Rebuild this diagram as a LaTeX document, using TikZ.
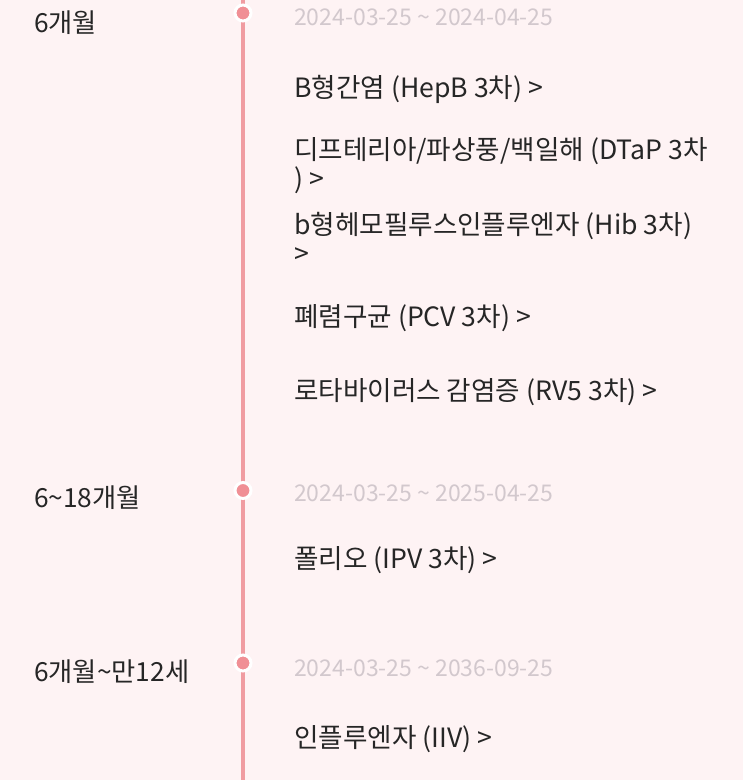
\documentclass[tikz,border=0pt]{standalone}
\usepackage{fontspec}
\setmainfont{Noto Sans CJK KR}
\definecolor{bgpink}{HTML}{FEF3F4}
\definecolor{linepink}{HTML}{F09CA1}
\definecolor{dotpink}{HTML}{F08F95}
\definecolor{dategray}{HTML}{D2C8CD}
\definecolor{txt}{HTML}{262626}
\newcommand\tld{{\char"007E}}
\tikzset{
  age/.style={anchor=base west, inner sep=0pt, font=\fontsize{26.3}{30}\selectfont, text=txt},
  datelbl/.style={anchor=base west, inner sep=0pt, font=\fontsize{23}{26}\selectfont, text=dategray},
  item/.style={anchor=base west, inner sep=0pt, align=left, font=\fontsize{26.6}{29}\selectfont, text=txt},
  dot/.style={circle, fill=dotpink, draw=white, line width=3pt, minimum size=16pt, inner sep=0pt},
}
\begin{document}
\begin{tikzpicture}[x=1pt,y=1pt]
\fill[bgpink] (0,0) rectangle (743,780);
\useasboundingbox (0,0) rectangle (743,780);
\coordinate (top) at (242.5,780);
\coordinate (bot) at (242.5,0);
\draw[linepink, line width=4pt] (top) -- (bot);
% group 1
\node[dot] (d1) at (243,767) {};
\node[age] (a1) at (34,747) {6개월};
\node[datelbl] (t1) at (294,754) {2024-03-25 \tld{} 2024-04-25};
\node[item] (i1) at (294,682) {B형간염 (HepB 3차) >};
\node[item] (i2) at (294,591) {디프테리아/파상풍/백일해 (DTaP 3차\\) >};
\node[item] (i3) at (294,516) {b형헤모필루스인플루엔자 (Hib 3차)\\>};
\node[item] (i4) at (294,453) {폐렴구균 (PCV 3차) >};
\node[item] (i5) at (294,379) {로타바이러스 감염증 (RV5 3차) >};
% group 2
\node[dot] (d2) at (243,289.5) {};
\node[age] (a2) at (34,272) {6\tld{}18개월};
\node[datelbl] (t2) at (294,278) {2024-03-25 \tld{} 2025-04-25};
\node[item] (i6) at (294,211) {폴리오 (IPV 3차) >};
% group 3
\node[dot] (d3) at (243,117) {};
\node[age] (a3) at (34,98) {6개월\tld{}만12세};
\node[datelbl] (t3) at (294,103) {2024-03-25 \tld{} 2036-09-25};
\node[item] (i7) at (294,32) {인플루엔자 (IIV) >};
\end{tikzpicture}
\end{document}
